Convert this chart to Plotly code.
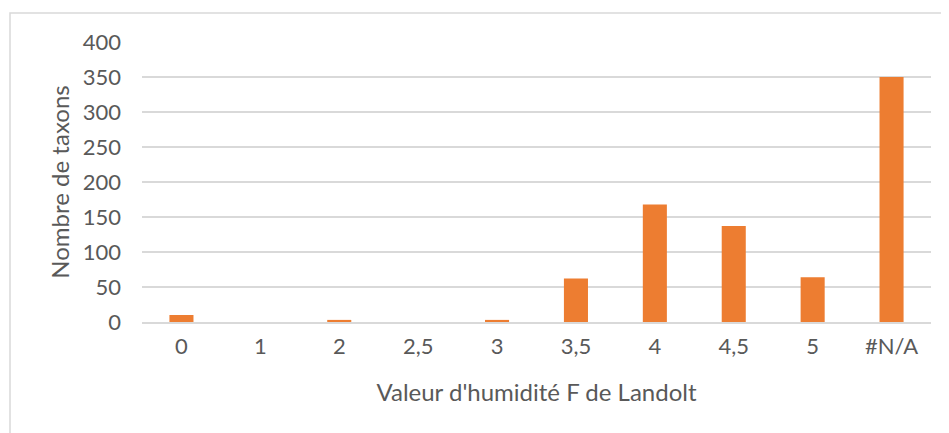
import plotly.graph_objects as go

categories = ["0", "1", "2", "2,5", "3", "3,5", "4", "4,5", "5", "#N/A"]
counts = [10, 0, 3, 0, 3, 62, 168, 137, 64, 350]

y_ticks = [0, 50, 100, 150, 200, 250, 300, 350, 400]

TEXT = "#595959"
FONT = "Lato"

# plot area (figure px): left 134, right 923, top 34, bottom 314
PW, PH = 789, 280

fig = go.Figure(
    go.Bar(
        x=categories,
        y=counts,
        marker=dict(color="#ED7D31", line=dict(width=0)),
        hoverinfo="x+y",
    )
)

fig.update_layout(
    width=949,
    height=433,
    margin=dict(l=134, r=26, t=34, b=119, autoexpand=False),
    paper_bgcolor="white",
    plot_bgcolor="white",
    bargap=0.695,
    showlegend=False,
    font=dict(family=FONT, color=TEXT, size=22),
    shapes=[
        dict(
            type="rect", xref="paper", yref="paper",
            x0=(2 - 134) / PW, x1=(970 - 134) / PW,
            y0=(314 - 460) / PH, y1=(314 - 5) / PH,
            line=dict(color="#D9D9D9", width=1.5), fillcolor="rgba(0,0,0,0)",
            layer="below",
        )
    ],
)

fig.update_xaxes(
    type="category",
    automargin=False,
    showgrid=False,
    showline=True,
    linecolor="#D9D9D9",
    linewidth=2,
    ticks="",
    tickfont=dict(family=FONT, size=22, color=TEXT),
    ticklabelstandoff=4,
    title=dict(text="Valeur d'humidité F de Landolt",
               font=dict(family=FONT, size=24, color=TEXT), standoff=26),
)

fig.update_yaxes(
    range=[0, 400],
    automargin=False,
    tickvals=y_ticks,
    showgrid=True,
    gridcolor="#D9D9D9",
    gridwidth=1.5,
    zeroline=False,
    showline=False,
    ticks="",
    tickfont=dict(family=FONT, size=22, color=TEXT),
    ticklabelstandoff=20,
    title=dict(text="Nombre de taxons",
               font=dict(family=FONT, size=24, color=TEXT), standoff=6),
)

fig.write_html("out.html")
